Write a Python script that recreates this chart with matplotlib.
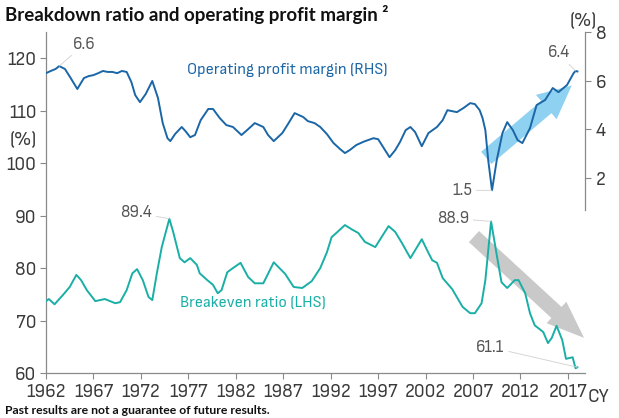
import matplotlib.pyplot as plt
from matplotlib.patches import FancyArrowPatch

# operating profit margin (RHS, %)
margin_years = [
    1962.0, 1962.5, 1963.0, 1963.4, 1964.0, 1964.6, 1965.3, 1966.0, 1966.5, 1967.0,
    1967.5, 1968.0, 1968.5, 1969.0, 1969.5, 1970.0, 1970.5, 1971.0, 1971.4, 1971.9,
    1972.5, 1973.2, 1973.8, 1974.3, 1974.8, 1975.1, 1975.6, 1976.3, 1976.7, 1977.2,
    1977.7, 1978.3, 1979.1, 1979.6, 1980.3, 1981.0, 1981.7, 1982.6, 1983.3, 1984.0,
    1984.9, 1985.4, 1986.0, 1986.9, 1987.5, 1988.2, 1989.1, 1989.6, 1990.3, 1990.9,
    1991.6, 1992.3, 1993.0, 1993.5, 1994.0, 1994.7, 1995.5, 1996.5, 1997.0, 1997.6,
    1998.2, 1998.8, 1999.3, 1999.9, 2000.4, 2000.9, 2001.6, 2002.3, 2003.2, 2003.8,
    2004.3, 2005.3, 2006.0, 2006.7, 2007.2, 2007.7, 2008.0, 2008.3, 2008.6, 2009.0,
    2009.5, 2010.1, 2010.6, 2011.2, 2011.7, 2012.2, 2013.0, 2013.7, 2014.6, 2015.4,
    2016.0, 2016.9, 2017.6, 2017.8, 2018.0,
]
margin = [
    6.31, 6.40, 6.48, 6.60, 6.48, 6.11, 5.66, 6.11, 6.19, 6.23,
    6.31, 6.40, 6.36, 6.36, 6.31, 6.40, 6.36, 5.94, 5.41, 5.12,
    5.45, 5.99, 5.29, 4.26, 3.64, 3.52, 3.81, 4.10, 3.93, 3.68,
    3.77, 4.38, 4.84, 4.84, 4.47, 4.18, 4.10, 3.77, 4.01, 4.26,
    4.10, 3.77, 3.52, 3.85, 4.22, 4.67, 4.51, 4.34, 4.26, 4.10,
    3.81, 3.44, 3.19, 3.03, 3.15, 3.36, 3.50, 3.64, 3.60, 3.23,
    2.86, 3.15, 3.48, 3.97, 4.10, 3.89, 3.31, 3.85, 4.10, 4.38,
    4.79, 4.71, 4.88, 5.08, 5.04, 4.79, 4.47, 3.97, 2.74, 1.50,
    2.74, 3.85, 4.30, 3.97, 3.56, 3.44, 4.05, 5.00, 5.21, 5.70,
    5.53, 5.82, 6.31, 6.40, 6.38,
]

# breakeven ratio (LHS, %)
breakeven_years = [
    1962.0, 1962.3, 1962.9, 1963.8, 1964.5, 1965.2, 1965.7, 1966.3, 1967.2, 1968.2,
    1969.3, 1969.8, 1970.5, 1971.1, 1971.6, 1972.2, 1972.8, 1973.2, 1973.7, 1974.2,
    1975.0, 1975.4, 1976.1, 1976.6, 1977.2, 1977.9, 1978.2, 1979.0, 1979.6, 1980.1,
    1980.5, 1981.1, 1981.7, 1982.5, 1983.3, 1984.0, 1984.9, 1986.0, 1987.2, 1988.1,
    1989.0, 1990.0, 1990.9, 1991.6, 1992.1, 1992.6, 1993.5, 1994.2, 1994.9, 1995.6,
    1996.7, 1997.5, 1998.1, 1998.8, 1999.5, 2000.4, 2001.1, 2001.6, 2002.3, 2002.7,
    2003.2, 2003.8, 2004.8, 2005.9, 2006.7, 2007.2, 2007.9, 2008.3, 2008.9, 2009.5,
    2010.0, 2010.6, 2011.4, 2011.8, 2012.5, 2013.0, 2013.5, 2014.4, 2014.9, 2015.3,
    2015.8, 2016.4, 2016.8, 2017.5, 2017.8, 2018.0,
]
breakeven = [
    73.7, 74.1, 73.1, 74.9, 76.4, 78.7, 77.7, 75.8, 73.7, 74.1,
    73.3, 73.5, 75.8, 79.0, 79.8, 77.7, 74.5, 73.9, 79.2, 84.0,
    89.4, 86.9, 81.9, 81.1, 81.9, 80.6, 79.0, 77.7, 76.8, 75.2,
    75.8, 79.2, 80.0, 81.0, 78.3, 77.1, 77.1, 81.1, 78.9, 76.4,
    76.2, 77.5, 80.0, 83.0, 85.9, 86.7, 88.2, 87.4, 86.7, 85.0,
    84.0, 86.3, 88.0, 86.9, 84.8, 81.9, 84.0, 85.5, 82.9, 81.5,
    81.0, 78.1, 76.0, 72.6, 71.4, 71.4, 73.3, 77.7, 88.9, 82.5,
    77.3, 76.2, 77.7, 77.7, 75.2, 71.4, 69.1, 67.8, 65.7, 66.7,
    69.0, 66.3, 62.7, 63.0, 60.9, 61.1,
]

x_ticks = list(range(1962, 2018, 5))
left_ticks = [60, 70, 80, 90, 100, 110, 120]
right_ticks = [2, 4, 6, 8]

# (year, label text, offset in pixels)
margin_labels = [(1963.4, "6.6", (25, 22)), (2009.0, "1.5", (-30, 0)), (2017.8, "6.4", (-17, 18))]
breakeven_labels = [(1975.0, "89.4", (-33, 6)), (2008.9, "88.9", (-38, 3)), (2018.0, "61.1", (-87, 20))]

BLUE = "#1b66a6"
TEAL = "#1aafa6"
LIGHT_BLUE = "#8fd1f0"
GREY_ARROW = "#c9c9c9"
TICK_COLOR = "#3a3a3a"
SPINE_COLOR = "#8a8a8a"
LABEL_COLOR = "#555555"
NARROW = ["Sofia Sans Semi Condensed", "DejaVu Sans"]
BOLD = ["Lato", "DejaVu Sans"]

fig = plt.figure(figsize=(6.19, 4.18), dpi=100)
ax = fig.add_axes([46 / 619, 45 / 418, 539 / 619, 341 / 418])
ax2 = ax.twinx()

# trend arrows, drawn under the lines
ax.add_patch(FancyArrowPatch(
    (2008.4, 101.0), (2017.4, 114.8),
    arrowstyle="simple,head_width=23,head_length=24,tail_width=11.5",
    mutation_scale=1, color=LIGHT_BLUE, lw=0, shrinkA=0, shrinkB=0, zorder=1,
))
ax.add_patch(FancyArrowPatch(
    (2007.1, 86.0), (2018.7, 66.7),
    arrowstyle="simple,head_width=21,head_length=27,tail_width=10.8",
    mutation_scale=1, color=GREY_ARROW, lw=0, shrinkA=0, shrinkB=0, zorder=1,
    clip_on=False,
))

ax.plot(breakeven_years, breakeven, color=TEAL, lw=1.4, zorder=3, solid_joinstyle="round")
ax2.plot(margin_years, margin, color=BLUE, lw=1.4, zorder=3, solid_joinstyle="round")
ax2.set_zorder(ax.get_zorder() + 1)
ax2.patch.set_visible(False)

ax.set_xlim(1962, 2018.8)
ax.set_ylim(60, 125)
ax2.set_ylim(-6, 8)

ax.set_xticks(x_ticks)
ax.set_yticks(left_ticks)
ax2.set_yticks(right_ticks)

for a in (ax, ax2):
    a.spines["top"].set_visible(False)
ax.spines["right"].set_visible(False)
ax2.spines["left"].set_visible(False)
ax2.spines["bottom"].set_visible(False)
for s in (ax.spines["left"], ax.spines["bottom"], ax2.spines["right"]):
    s.set_color(SPINE_COLOR)
    s.set_linewidth(0.9)
ax2.spines["right"].set_bounds(0.7, 8)

ax.tick_params(axis="both", colors=SPINE_COLOR, labelcolor=TICK_COLOR, length=4, width=0.8,
               labelsize=14, pad=3)
ax2.tick_params(axis="y", colors=SPINE_COLOR, labelcolor=TICK_COLOR, length=4, width=0.8,
                labelsize=14, pad=4)
for lab in ax.get_xticklabels() + ax.get_yticklabels() + ax2.get_yticklabels():
    lab.set_family(NARROW)

for year, txt, off in margin_labels:
    ax2.annotate(txt, xy=(year, margin[margin_years.index(year)]), xytext=off,
                 textcoords="offset pixels", ha="center", va="center", fontsize=12.5,
                 color=LABEL_COLOR, family=NARROW,
                 arrowprops=dict(arrowstyle="-", color="#d0d0d0", lw=0.6, shrinkA=1, shrinkB=0))
for year, txt, off in breakeven_labels:
    ax.annotate(txt, xy=(year, breakeven[breakeven_years.index(year)]), xytext=off,
                textcoords="offset pixels", ha="center", va="center", fontsize=12.5,
                color=LABEL_COLOR, family=NARROW,
                arrowprops=dict(arrowstyle="-", color="#d0d0d0", lw=0.6, shrinkA=1, shrinkB=0))

ax.text(0.447, 0.889, "Operating profit margin (RHS)", transform=ax.transAxes, ha="center",
        va="center", fontsize=12, color=BLUE, family=NARROW)
ax.text(0.384, 0.205, "Breakeven ratio (LHS)", transform=ax.transAxes, ha="center",
        va="center", fontsize=12, color=TEAL, family=NARROW)

fig.text(23 / 619, 1 - 140 / 418, "(%)", ha="center", va="center", fontsize=14,
         color=TICK_COLOR, family=NARROW)
fig.text(583 / 619, 1 - 21 / 418, "(%)", ha="center", va="center", fontsize=14,
         color=TICK_COLOR, family=NARROW)
fig.text(598 / 619, 1 - 397 / 418, "CY", ha="center", va="center", fontsize=14,
         color=TICK_COLOR, family=NARROW)

fig.text(5 / 619, 1 - 15 / 418, "Breakdown ratio and operating profit margin \u00b2",
         ha="left", va="center", fontsize=13.5, fontweight="bold", color="#111111", family=BOLD)
fig.text(5 / 619, 1 - 410 / 418, "Past results are not a guarantee of future results.",
         ha="left", va="center", fontsize=8.8, fontweight="bold", color="#111111", family=BOLD)

fig.savefig("out.png", dpi=100)
